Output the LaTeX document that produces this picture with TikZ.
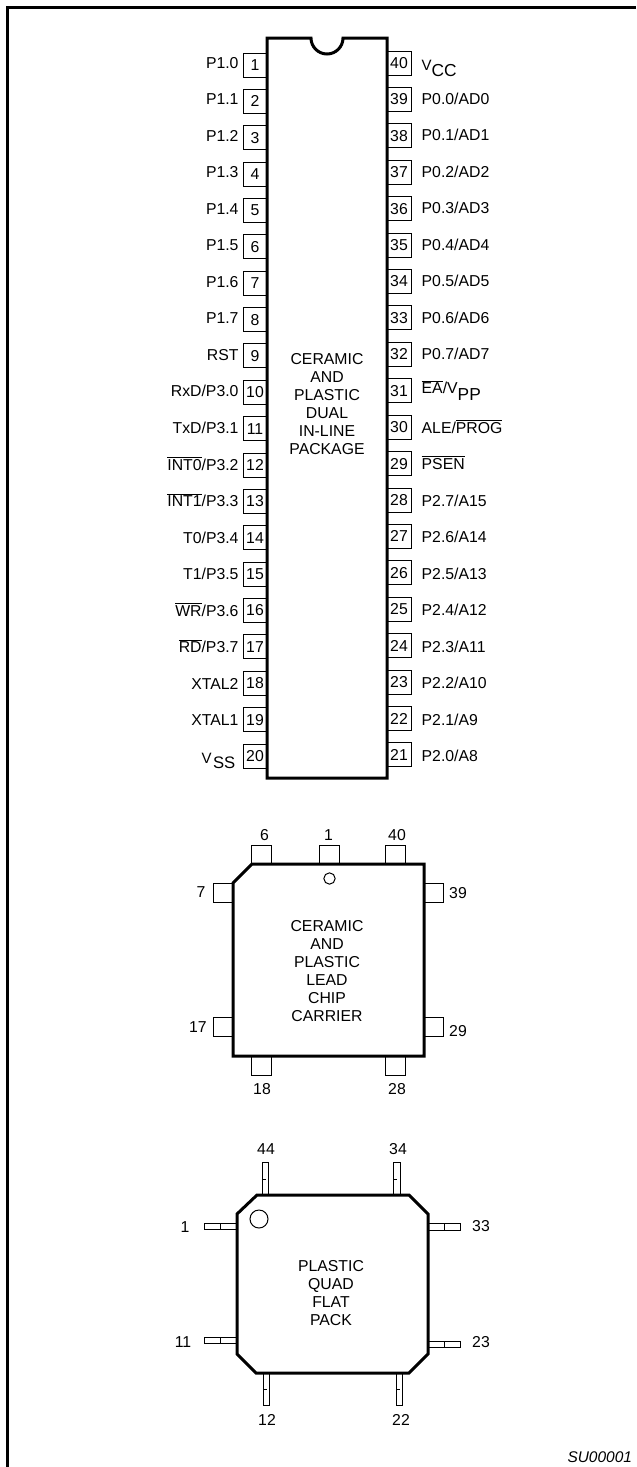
\documentclass[tikz,border=0pt]{standalone}
\usepackage{fontspec}
\setmainfont{Liberation Sans}
\newcommand{\ovl}[1]{\ensuremath{\overline{\mbox{#1}}}}
% arguments: size of the low part, its drop, first text, low text
\newcommand{\lowtxt}[4]{#3\raisebox{-#2}{\fontsize{#1}{14}\selectfont #4}}
\tikzset{
  x=0.75pt,y=-0.75pt,
  frameline/.style={line width=2.25pt,line cap=butt},
  body/.style={line width=2.25pt,fill=white,line join=miter},
  txt/.style={inner sep=0pt,outer sep=0pt,font=\fontsize{11.85}{13.5}\selectfont,text=black},
  dippin/.style={draw,line width=0.75pt,fill=white,minimum width=18pt,minimum height=18pt,inner sep=0pt,outer sep=0pt,font=\fontsize{11.85}{13.5}\selectfont},
  lccpin/.style={draw,line width=0.75pt,fill=white,minimum width=14.5pt,minimum height=14.5pt,inner sep=0pt,outer sep=0pt},
  hlead/.style={draw,line width=0.75pt,fill=white,minimum width=24.5pt,minimum height=5pt,inner sep=0pt,outer sep=0pt},
  vlead/.style={draw,line width=0.75pt,fill=white,minimum width=5pt,minimum height=24.5pt,inner sep=0pt,outer sep=0pt},
  tick/.style={line width=0.6pt},
  mark circle/.style={draw,circle,line width=0.75pt,inner sep=0pt,outer sep=0pt},
  blocktxt/.style={txt,align=center},
}
\begin{document}
\begin{tikzpicture}
\useasboundingbox (0,0) rectangle (636,1467);
% frame
\coordinate (frameBL) at (7,1467);
\coordinate (frameTL) at (7,7);
\coordinate (frameTR) at (636,7);
\draw[frameline,line join=miter] (frameBL) -- (frameTL) -- (frameTR);
% DIP pins
\foreach \n/\lab [count=\i from 0] in {1/P1.0,2/P1.1,3/P1.2,4/P1.3,5/P1.4,6/P1.5,7/P1.6,8/P1.7,9/RST,10/{RxD/P3.0},11/{TxD/P3.1},12/{\ovl{INT0}/P3.2},13/{\ovl{INT1}/P3.3},14/{T0/P3.4},15/{T1/P3.5},16/{\ovl{WR}/P3.6},17/{\ovl{RD}/P3.7},18/XTAL2,19/XTAL1,20/{\raisebox{-1pt}{\lowtxt{12.5}{3.75pt}{\fontsize{11.25}{13}\selectfont V\kern1pt}{SS}}\kern2.4pt}}{
  \pgfmathsetmacro{\yy}{65+36.37*\i}
  \pgfmathsetmacro{\bb}{68+36.55*\i}
  \node[dippin] (L\n) at (255,\yy) {\n};
  \node[txt,anchor=base east] (LT\n) at (238.5,\bb) {\lab};
}
\foreach \n/\lab [count=\i from 0] in {40/{\raisebox{-1.9pt}{\lowtxt{13}{5pt}{\fontsize{11.25}{13}\selectfont V}{CC}}},39/{P0.0/AD0},38/{P0.1/AD1},37/{P0.2/AD2},36/{P0.3/AD3},35/{P0.4/AD4},34/{P0.5/AD5},33/{P0.6/AD6},32/{P0.7/AD7},31/{\raisebox{1.9pt}{\lowtxt{13}{5pt}{\ovl{EA}/V}{PP}}},30/{ALE/\ovl{PROG}},29/{\ovl{PSEN}},28/{P2.7/A15},27/{P2.6/A14},26/{P2.5/A13},25/{P2.4/A12},24/{P2.3/A11},23/{P2.2/A10},22/{P2.1/A9},21/{P2.0/A8}}{
  \pgfmathsetmacro{\yy}{63+36.42*\i}
  \pgfmathsetmacro{\bb}{67.5+36.55*\i}
  \node[dippin] (R\n) at (399,\yy) {\n};
  \node[txt,anchor=base west] (RT\n) at (421.7,\bb) {\lab};
}
% DIP body
\draw[body] (267,38) -- (311,38) arc[start angle=180,end angle=0,radius=16] -- (387,38) -- (387,778) -- (267,778) -- cycle;
\node[blocktxt] (diptext) at (327,404) {CERAMIC\\AND\\PLASTIC\\DUAL\\IN-LINE\\PACKAGE};
% PLCC pins
\node[lccpin] (p6) at (261.5,855.5) {};
\node[lccpin] (p1) at (329.5,855.5) {};
\node[lccpin] (p40) at (395.5,855.5) {};
\node[lccpin] (p7) at (223.5,893) {};
\node[lccpin] (p17) at (223.5,1027) {};
\node[lccpin] (p39) at (433.5,893) {};
\node[lccpin] (p29) at (433.5,1027) {};
\node[lccpin] (p18) at (261.5,1065.5) {};
\node[lccpin] (p28) at (395.5,1065.5) {};
\draw[body] (252,864) -- (424,864) -- (424,1056) -- (233,1056) -- (233,883) -- cycle;
\node[mark circle,minimum size=8.5pt] (dot1) at (329.5,878.5) {};
\node[blocktxt] (lcctext) at (327,971) {CERAMIC\\AND\\PLASTIC\\LEAD\\CHIP\\CARRIER};
\node[txt] (t6) at (264.5,835) {6};
\node[txt] (t1) at (328.5,835) {1};
\node[txt] (t40) at (397,835) {40};
\node[txt] (t7) at (201,892) {7};
\node[txt] (t17) at (198,1027) {17};
\node[txt] (t39) at (458,893) {39};
\node[txt] (t29) at (458,1031) {29};
\node[txt] (t18) at (262,1089) {18};
\node[txt] (t28) at (397,1089) {28};
% QFP leads
\node[hlead] (q1) at (220.5,1226.5) {};
\node[hlead] (q11) at (220.5,1340.5) {};
\node[hlead] (q33) at (444,1227) {};
\node[hlead] (q23) at (444,1344.5) {};
\node[vlead] (q44) at (265.5,1179) {};
\node[vlead] (q34) at (397,1179) {};
\node[vlead] (q12) at (266.5,1389) {};
\node[vlead] (q22) at (399.5,1389) {};
\foreach \a in {q1,q11,q33,q23}{\draw[tick] (\a.north) -- (\a.south);}
\foreach \a in {q44,q34,q12,q22}{\draw[tick] (\a.center) -- (\a.west);}
\draw[body] (257,1195) -- (409,1195) -- (428,1214) -- (428,1354) -- (409,1373) -- (256,1373) -- (237,1354) -- (237,1214) -- cycle;
\node[mark circle,minimum size=13.5pt] (dot2) at (259,1219) {};
\node[blocktxt] (qfptext) at (331,1293) {PLASTIC\\QUAD\\FLAT\\PACK};
\node[txt] (n1) at (185,1227) {1};
\node[txt] (n11) at (183,1342) {11};
\node[txt] (n33) at (481,1226) {33};
\node[txt] (n23) at (481,1342) {23};
\node[txt] (n44) at (266,1149) {44};
\node[txt] (n34) at (398,1149) {34};
\node[txt] (n12) at (267,1420) {12};
\node[txt] (n22) at (401,1420) {22};
\node[txt,anchor=base east,font=\fontsize{11.6}{13.5}\selectfont\itshape] (code) at (632,1462) {SU00001};
\end{tikzpicture}
\end{document}
